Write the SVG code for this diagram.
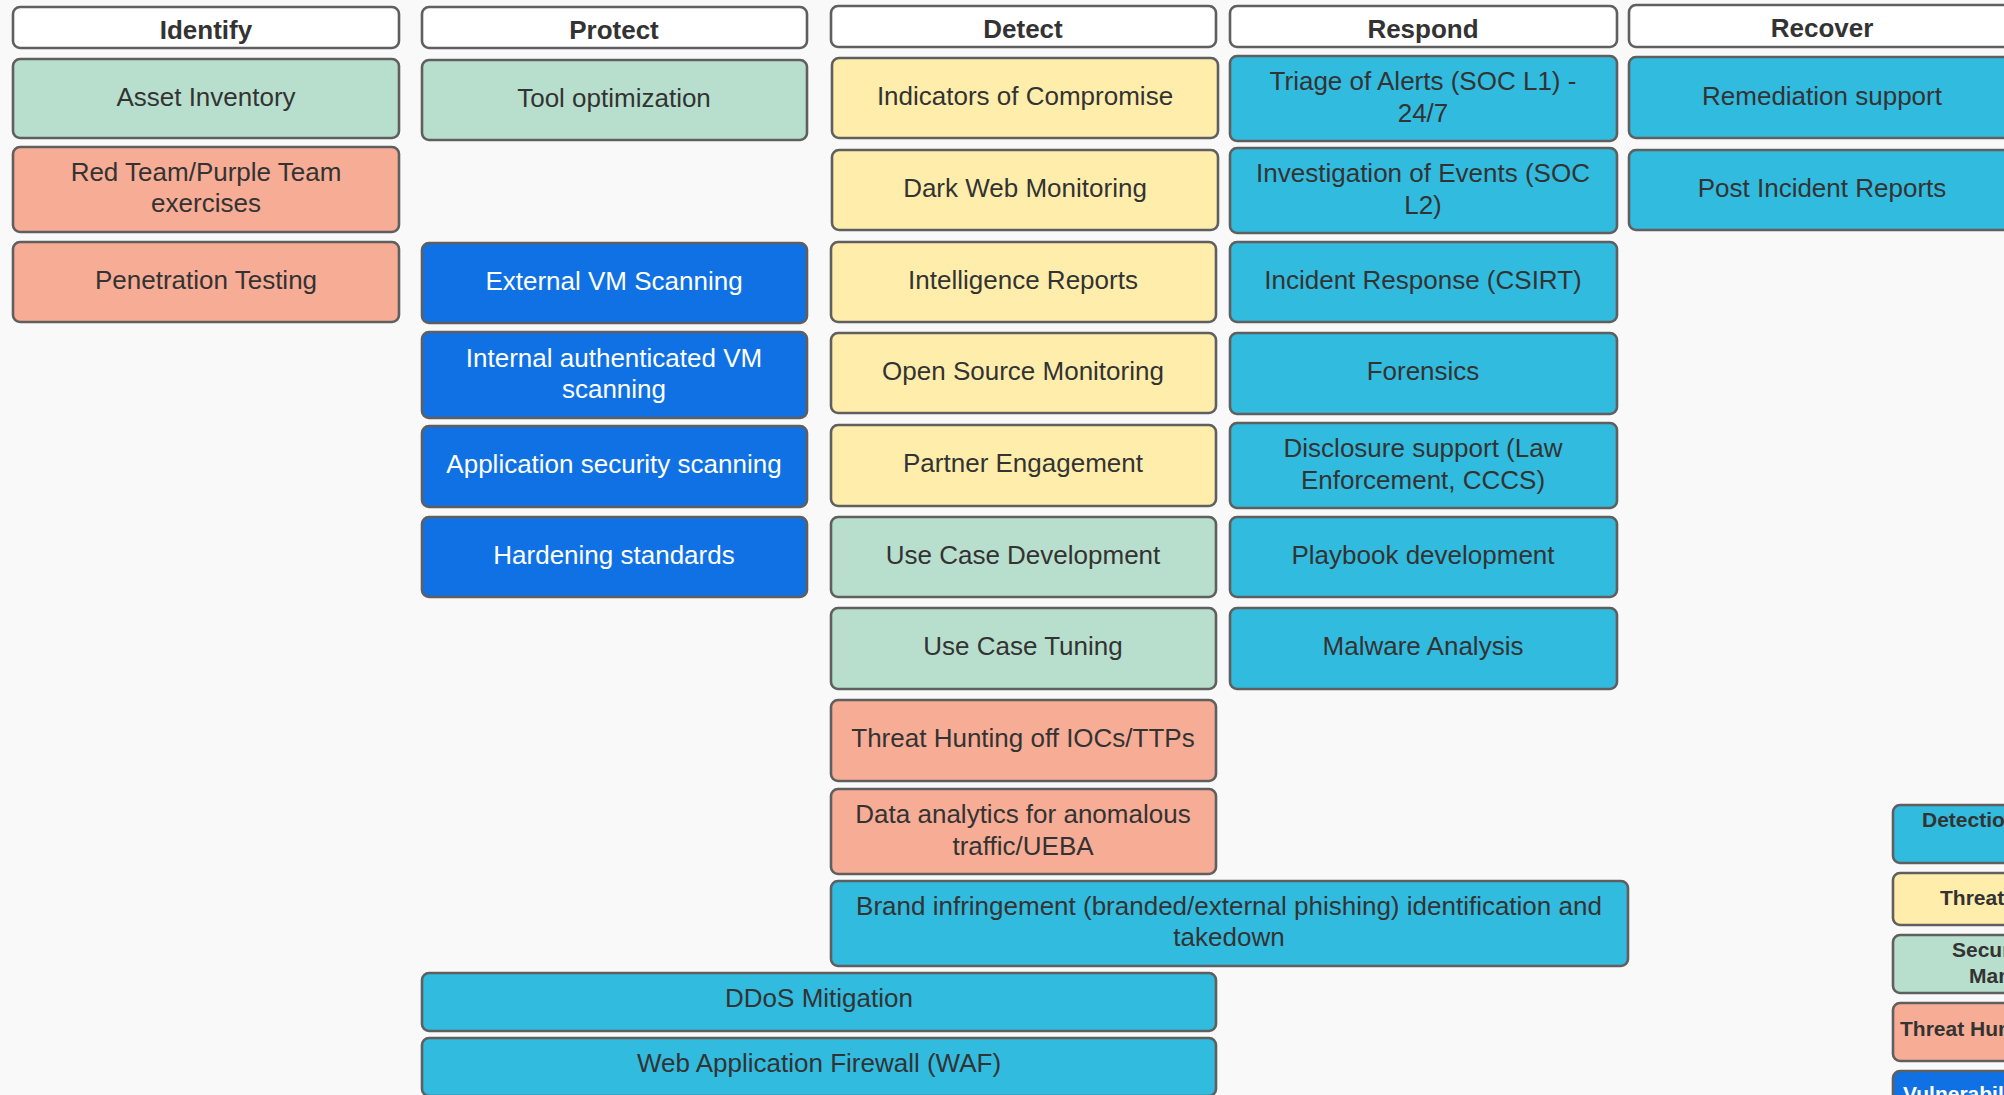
<svg xmlns="http://www.w3.org/2000/svg" width="2004" height="1095" viewBox="0 0 2004 1095">
<style>
rect.b{stroke:#5f5f5f;stroke-width:2.6}
.hd{fill:#ffffff}
.gr{fill:#b8dfcd}
.sa{fill:#f7ac95}
.ye{fill:#ffeeab}
.cy{fill:#31bbdf}
.bl{fill:#1071e4}
text{font-family:"Liberation Sans",Arial,sans-serif;font-size:26px;fill:#333333;text-anchor:middle}
text.h{font-weight:bold}
text.w{fill:#ffffff}
text.lg{font-size:21px;font-weight:bold;text-anchor:start}
</style>
<rect x="0" y="0" width="2004" height="1095" fill="#f9f9f9"/>
<g id="connectors"/>

<g id="identify-header"><rect class="b hd" x="13" y="7" width="386" height="41" rx="7"/><text class="h" x="206" y="39">Identify</text></g>
<g id="asset-inventory"><rect class="b gr" x="13" y="59" width="386" height="79" rx="7"/><text x="206" y="106">Asset Inventory</text></g>
<g id="red-team"><rect class="b sa" x="13" y="147" width="386" height="85" rx="7"/><text x="206" y="181">Red Team/Purple Team</text><text x="206" y="212">exercises</text></g>
<g id="pen-testing"><rect class="b sa" x="13" y="242" width="386" height="80" rx="7"/><text x="206" y="289">Penetration Testing</text></g>

<g id="protect-header"><rect class="b hd" x="422" y="7" width="385" height="41" rx="7"/><text class="h" x="614" y="39">Protect</text></g>
<g id="tool-optimization"><rect class="b gr" x="422" y="60" width="385" height="80" rx="7"/><text x="614" y="107">Tool optimization</text></g>
<g id="external-vm"><rect class="b bl" x="422" y="243" width="385" height="80" rx="7"/><text class="w" x="614" y="290">External VM Scanning</text></g>
<g id="internal-vm"><rect class="b bl" x="422" y="332" width="385" height="86" rx="7"/><text class="w" x="614" y="367">Internal authenticated VM</text><text class="w" x="614" y="398">scanning</text></g>
<g id="app-sec"><rect class="b bl" x="422" y="426" width="385" height="81" rx="7"/><text class="w" x="614" y="473">Application security scanning</text></g>
<g id="hardening"><rect class="b bl" x="422" y="517" width="385" height="80" rx="7"/><text class="w" x="614" y="564">Hardening standards</text></g>
<g id="ddos"><rect class="b cy" x="422" y="973" width="794" height="58" rx="7"/><text x="819" y="1007">DDoS Mitigation</text></g>
<g id="waf"><rect class="b cy" x="422" y="1038" width="794" height="58" rx="7"/><text x="819" y="1072">Web Application Firewall (WAF)</text></g>

<g id="detect-header"><rect class="b hd" x="831" y="6" width="385" height="41" rx="7"/><text class="h" x="1023" y="38">Detect</text></g>
<g id="ioc"><rect class="b ye" x="832" y="58" width="386" height="80" rx="7"/><text x="1025" y="105">Indicators of Compromise</text></g>
<g id="dark-web"><rect class="b ye" x="832" y="150" width="386" height="80" rx="7"/><text x="1025" y="197">Dark Web Monitoring</text></g>
<g id="intel-reports"><rect class="b ye" x="831" y="242" width="385" height="80" rx="7"/><text x="1023" y="289">Intelligence Reports</text></g>
<g id="osint"><rect class="b ye" x="831" y="333" width="385" height="80" rx="7"/><text x="1023" y="380">Open Source Monitoring</text></g>
<g id="partner"><rect class="b ye" x="831" y="425" width="385" height="81" rx="7"/><text x="1023" y="472">Partner Engagement</text></g>
<g id="uc-dev"><rect class="b gr" x="831" y="517" width="385" height="80" rx="7"/><text x="1023" y="564">Use Case Development</text></g>
<g id="uc-tuning"><rect class="b gr" x="831" y="608" width="385" height="81" rx="7"/><text x="1023" y="655">Use Case Tuning</text></g>
<g id="threat-hunting-ioc"><rect class="b sa" x="831" y="700" width="385" height="81" rx="7"/><text x="1023" y="747">Threat Hunting off IOCs/TTPs</text></g>
<g id="data-analytics"><rect class="b sa" x="831" y="789" width="385" height="85" rx="7"/><text x="1023" y="823">Data analytics for anomalous</text><text x="1023" y="855">traffic/UEBA</text></g>
<g id="brand"><rect class="b cy" x="831" y="881" width="797" height="85" rx="7"/><text x="1229" y="915">Brand infringement (branded/external phishing) identification and</text><text x="1229" y="946">takedown</text></g>

<g id="respond-header"><rect class="b hd" x="1230" y="6" width="387" height="41" rx="7"/><text class="h" x="1423" y="38">Respond</text></g>
<g id="triage"><rect class="b cy" x="1230" y="56" width="387" height="85" rx="7"/><text x="1423" y="90">Triage of Alerts (SOC L1) -</text><text x="1423" y="122">24/7</text></g>
<g id="investigation"><rect class="b cy" x="1230" y="148" width="387" height="85" rx="7"/><text x="1423" y="182">Investigation of Events (SOC</text><text x="1423" y="214">L2)</text></g>
<g id="incident-response"><rect class="b cy" x="1230" y="242" width="387" height="80" rx="7"/><text x="1423" y="289">Incident Response (CSIRT)</text></g>
<g id="forensics"><rect class="b cy" x="1230" y="333" width="387" height="81" rx="7"/><text x="1423" y="380">Forensics</text></g>
<g id="disclosure"><rect class="b cy" x="1230" y="423" width="387" height="85" rx="7"/><text x="1423" y="457">Disclosure support (Law</text><text x="1423" y="489">Enforcement, CCCS)</text></g>
<g id="playbook"><rect class="b cy" x="1230" y="517" width="387" height="80" rx="7"/><text x="1423" y="564">Playbook development</text></g>
<g id="malware"><rect class="b cy" x="1230" y="608" width="387" height="81" rx="7"/><text x="1423" y="655">Malware Analysis</text></g>

<g id="recover-header"><rect class="b hd" x="1629" y="5" width="386" height="42" rx="7"/><text class="h" x="1822" y="37">Recover</text></g>
<g id="remediation"><rect class="b cy" x="1629" y="57" width="386" height="81" rx="7"/><text x="1822" y="105">Remediation support</text></g>
<g id="post-incident"><rect class="b cy" x="1629" y="150" width="386" height="80" rx="7"/><text x="1822" y="197">Post Incident Reports</text></g>

<g id="legend-detection"><rect class="b cy" x="1893" y="805" width="280" height="58" rx="7"/><text class="lg" x="1922" y="827">Detection &amp; Response</text></g>
<g id="legend-threat-intel"><rect class="b ye" x="1893" y="873" width="280" height="52" rx="7"/><text class="lg" x="1940" y="905">Threat Intelligence</text></g>
<g id="legend-security-mgmt"><rect class="b gr" x="1893" y="935" width="280" height="58" rx="7"/><text class="lg" x="1952" y="957">Security Device</text><text class="lg" x="1969" y="983">Management</text></g>
<g id="legend-threat-hunting"><rect class="b sa" x="1893" y="1003" width="280" height="58" rx="7"/><text class="lg" x="1900" y="1036">Threat Hunting &amp; Analytics</text></g>
<g id="legend-vulnerability"><rect class="b bl" x="1893" y="1071" width="280" height="58" rx="7"/><text class="lg w" x="1903" y="1101">Vulnerability Management</text></g>
</svg>
